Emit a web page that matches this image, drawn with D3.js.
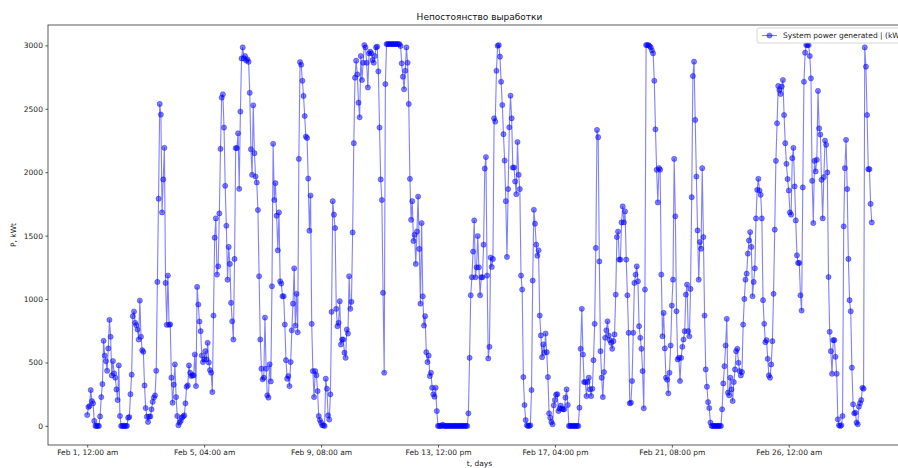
<!DOCTYPE html>
<html>
<head>
<meta charset="utf-8">
<script src="https://cdn.jsdelivr.net/npm/d3@7"></script>
<style>
    body { margin: 0; background: #fff; }
    text { font-family: "DejaVu Sans", sans-serif; }
</style>
</head>
<body>
<svg id="chart"></svg>
<script>
// hourly values, Feb 1 00:00 .. Feb 28 23:00
const week1 = [
    86, 149, 157, 283, 196, 178, 39, 0, 0, 0,
    0, 75, 227, 330, 671, 555, 511, 435, 611, 836,
    703, 398, 511, 414, 380, 288, 204, 477, 78, 0,
    0, 0, 0, 0, 0, 65, 70, 250, 404, 865,
    902, 813, 794, 760, 681, 988, 703, 597, 584, 319,
    141, 73, 31, 73, 75, 131, 190, 223, 240, 435,
    1135, 1791, 2538, 2454, 1683, 1943, 2192, 1127, 797, 1185,
    797, 800, 380, 183, 325, 485, 227, 78, 5, 26,
    40, 65, 75, 83, 178, 309, 319, 477, 419, 393,
    400, 398, 563, 314, 1096, 957, 823, 747, 555, 503,
    524, 589, 524, 655, 500, 440, 419, 267, 870, 1484,
    1636, 1193, 1258, 1675, 2184, 2588, 2614, 2352, 1893, 1578,
    1153, 1411, 1277, 970, 825, 681, 1316, 2190, 2190, 2307,
    1869, 2478, 2897, 2984, 2897, 2916, 2880, 2890, 2870, 2626,
    2181, 1980, 2527, 2150, 1966, 1919, 1702, 1180, 681, 451,
    367, 380, 854, 451, 241, 223, 485, 351, 1101, 2224,
    1781, 1914, 1657, 1384, 1683, 1140, 1122, 1022
];
const week2 = [
    1022, 799,
    518, 372, 393, 314, 503, 754, 964, 1242, 791, 1041,
    738, 2105, 2868, 2847, 2721, 2601, 2443, 2281, 2270, 1950,
    1539, 1816, 805, 432, 227, 432, 400, 275, 78, 46,
    26, 5, 5, 0, 372, 293, 83, 50, 249, 899,
    1772, 1665, 1560, 923, 786, 813, 983, 642, 681, 681,
    577, 537, 760, 728, 1180, 923, 978, 1525, 2229, 2745,
    2879, 2771, 2548, 2433, 2916, 2727, 2863, 3002, 2984, 2863,
    2668, 2937, 2950, 2937, 2884, 2863, 2916, 2984, 2990, 2795,
    2352, 1943, 1781, 1049, 419, 2695, 3010, 3010, 3010, 3010,
    3010, 3010, 3010, 3010, 3010, 3010, 3010, 3010, 2995, 2858,
    2753, 2654, 2800, 2984, 2863, 2538, 1948, 1625, 1772, 1458,
    1507, 1277, 1532, 1808, 1395, 964, 1599, 1022, 791, 865,
    581, 503, 555, 393, 419, 301, 249, 230, 301, 117,
    0, 0, 0, 0, 10, 0, 0, 0, 0, 0,
    0, 0, 0, 0, 0, 0, 0, 0, 0, 0,
    0, 0, 0, 0, 0, 0, 99, 537, 1030, 1172,
    1374, 1620, 1172, 1250, 1497, 1250
];
const week3 = [
    1030, 1172, 1172, 1429,
    2029, 2119, 1185, 532, 624, 1327, 1253, 1316, 2425, 2399,
    2800, 2997, 3002, 2911, 2713, 2530, 2300, 2092, 1772, 1332,
    1867, 2354, 2603, 2425, 2037, 2037, 1927, 1827, 2238, 1980,
    1867, 1185, 1075, 385, 165, 46, 5, 0, 0, 5,
    283, 1146, 1704, 1594, 1429, 1342, 1384, 870, 713, 542,
    642, 577, 728, 581, 385, 99, 65, 30, 13, 162,
    204, 246, 250, 117, 136, 160, 136, 131, 131, 223,
    288, 165, 0, 0, 0, 0, 0, 0, 0, 0,
    0, 144, 608, 923, 563, 346, 346, 235, 346, 380,
    288, 235, 293, 518, 805, 1403, 2333, 2276, 1297, 589,
    380, 227, 424, 695, 754, 825, 713, 676, 655, 608,
    668, 721, 1035, 1489, 1532, 1311, 1311, 1604, 1730, 1604,
    1691, 1311, 1030, 734, 178, 183, 354, 734, 1127, 1193,
    1258, 1140, 786, 695, 608, 432, 139, 1075, 3002, 3002,
    3002, 2995, 2984, 2960, 2937, 2721, 2338, 2019, 1762, 2032,
    2020, 1193, 707, 891, 611, 380, 364, 257, 419, 634,
    949, 1153, 2105, 1652
];
const week4 = [
    904, 524, 537, 354, 537, 624,
    681, 747, 1035, 1114, 747, 707, 1080, 1803, 2758, 2871,
    2412, 1966, 1541, 1153, 1450, 1397, 2032, 1489, 870, 445,
    309, 188, 141, 26, 0, 0, 0, 0, 0, 0,
    0, 0, 0, 131, 335, 471, 634, 844, 262, 241,
    380, 288, 196, 346, 445, 589, 608, 498, 432, 398,
    424, 799, 1001, 1153, 1200, 1358, 1462, 1528, 1411, 1022,
    1135, 1242, 1636, 1861, 1948, 1856, 1822, 1636, 991, 805,
    660, 676, 529, 398, 380, 485, 668, 1041, 1547, 2090,
    2386, 2680, 2648, 2617, 2675, 2727, 2451, 2229, 2066, 1946,
    1856, 1683, 1665, 2111, 2192, 1888, 1620, 1345, 1285, 1285,
    1030, 909, 1880, 2713, 2942, 3002, 3002, 3002, 2916, 2740,
    1932, 1599, 2090, 2006, 2098, 2641, 2346, 2297, 1940, 1636,
    1961, 2249, 2216, 1998, 1174, 742, 589, 411, 676, 676,
    545, 411, 52, 5, 0, 5, 78, 1573, 2032, 2255,
    1867, 1316, 991, 904, 459, 170, 99, 104, 26, 13,
    152, 180, 204, 301, 293, 2984, 2832, 2451, 2024, 2024, 1751, 1604
];

const tickIndex = [0, 100, 200, 300, 400, 500, 600];
const tickLabels = [
    "Feb 1, 12:00 am", "Feb 5, 04:00 am", "Feb 9, 08:00 am", "Feb 13, 12:00 pm",
    "Feb 17, 04:00 pm", "Feb 21, 08:00 pm", "Feb 26, 12:00 am"
];
const yTicks = [0, 500, 1000, 1500, 2000, 2500, 3000];
const seriesName = "System power generated | (kW)";

class PowerChart {
    margin = { top: 25, right: -13, bottom: 23, left: 48 };

    constructor(svg, values, width = 898, height = 468) {
        this.svg = d3.select(svg);
        this.values = values;
        this.width = width;
        this.height = height;
    }

    initialize() {
        this.svg.attr("width", this.width).attr("height", this.height);
        this.svg.append("rect").attr("width", this.width).attr("height", this.height).attr("fill", "#fff");

        this.left = this.margin.left;
        this.right = this.width - this.margin.right;
        this.top = this.margin.top;
        this.bottom = this.height - this.margin.bottom;

        // matplotlib-like 5% margins around the data
        const n = this.values.length - 1;
        const maxV = d3.max(this.values);
        this.x = d3.scaleLinear().domain([-0.05 * n, n * 1.05]).range([this.left, this.right]);
        this.y = d3.scaleLinear().domain([-0.05 * maxV, maxV * 1.05]).range([this.bottom, this.top]);

        this.createAxes();
        this.drawSeries();
        this.drawLegend();
    }

    createAxes() {
        const xAxis = d3.axisBottom(this.x)
            .tickValues(tickIndex)
            .tickFormat((d, i) => tickLabels[i])
            .tickSize(2.6)
            .tickPadding(2.5);

        const yAxis = d3.axisLeft(this.y)
            .tickValues(yTicks)
            .tickFormat(d3.format("d"))
            .tickSize(2.6)
            .tickPadding(2.5);

        const gx = this.svg.append("g")
            .attr("transform", `translate(0, ${this.bottom})`)
            .call(xAxis);
        const gy = this.svg.append("g")
            .attr("transform", `translate(${this.left}, 0)`)
            .call(yAxis);

        [gx, gy].forEach(g => {
            g.select(".domain").remove();
            g.selectAll(".tick line").attr("stroke", "#333").attr("stroke-width", 0.8);
            g.selectAll(".tick text").attr("fill", "#222").style("font-size", "7.5px");
        });

        // frame
        this.svg.append("rect")
            .attr("x", this.left)
            .attr("y", this.top)
            .attr("width", this.right - this.left)
            .attr("height", this.bottom - this.top)
            .attr("fill", "none")
            .attr("stroke", "#333")
            .attr("stroke-width", 0.8);

        this.svg.append("text")
            .attr("x", (this.left + this.right) / 2)
            .attr("y", 20)
            .attr("text-anchor", "middle")
            .style("font-size", "9px")
            .attr("fill", "#111")
            .text("Непостоянство выработки");

        this.svg.append("text")
            .attr("x", (this.left + this.right) / 2)
            .attr("y", 466)
            .attr("text-anchor", "middle")
            .style("font-size", "7.5px")
            .attr("fill", "#222")
            .text("t, days");

        this.svg.append("text")
            .attr("transform", `translate(16, ${(this.top + this.bottom) / 2}) rotate(-90)`)
            .attr("text-anchor", "middle")
            .style("font-size", "7.5px")
            .attr("fill", "#222")
            .text("P, kWt");
    }

    drawSeries() {
        const line = d3.line()
            .x((d, i) => this.x(i))
            .y(d => this.y(d));

        this.svg.append("path")
            .datum(this.values)
            .attr("d", line)
            .attr("fill", "none")
            .attr("stroke", "blue")
            .attr("stroke-opacity", 0.5)
            .attr("stroke-width", 1.1)
            .attr("stroke-linejoin", "round");

        this.svg.append("g")
            .selectAll("circle")
            .data(this.values)
            .enter().append("circle")
            .attr("cx", (d, i) => this.x(i))
            .attr("cy", d => this.y(d))
            .attr("r", 2.6)
            .attr("fill", "blue")
            .attr("fill-opacity", 0.5)
            .attr("stroke", "blue")
            .attr("stroke-opacity", 0.5)
            .attr("stroke-width", 0.7);
    }

    drawLegend() {
        const g = this.svg.append("g").attr("transform", "translate(757, 28)");
        g.append("rect")
            .attr("width", 160).attr("height", 15).attr("rx", 2)
            .attr("fill", "#fff").attr("fill-opacity", 0.8)
            .attr("stroke", "#ccc").attr("stroke-width", 0.8);
        g.append("line")
            .attr("x1", 5).attr("x2", 20).attr("y1", 7.5).attr("y2", 7.5)
            .attr("stroke", "blue").attr("stroke-opacity", 0.5).attr("stroke-width", 1.1);
        g.append("circle")
            .attr("cx", 12.5).attr("cy", 7.5).attr("r", 2.6)
            .attr("fill", "blue").attr("fill-opacity", 0.5)
            .attr("stroke", "blue").attr("stroke-opacity", 0.5).attr("stroke-width", 0.7);
        g.append("text")
            .attr("x", 26).attr("y", 10.3)
            .style("font-size", "7.5px")
            .attr("fill", "#222")
            .text(seriesName);
    }
}

const power = [].concat(week1, week2, week3, week4);
const chart = new PowerChart("#chart", power);
chart.initialize();
</script>
</body>
</html>
